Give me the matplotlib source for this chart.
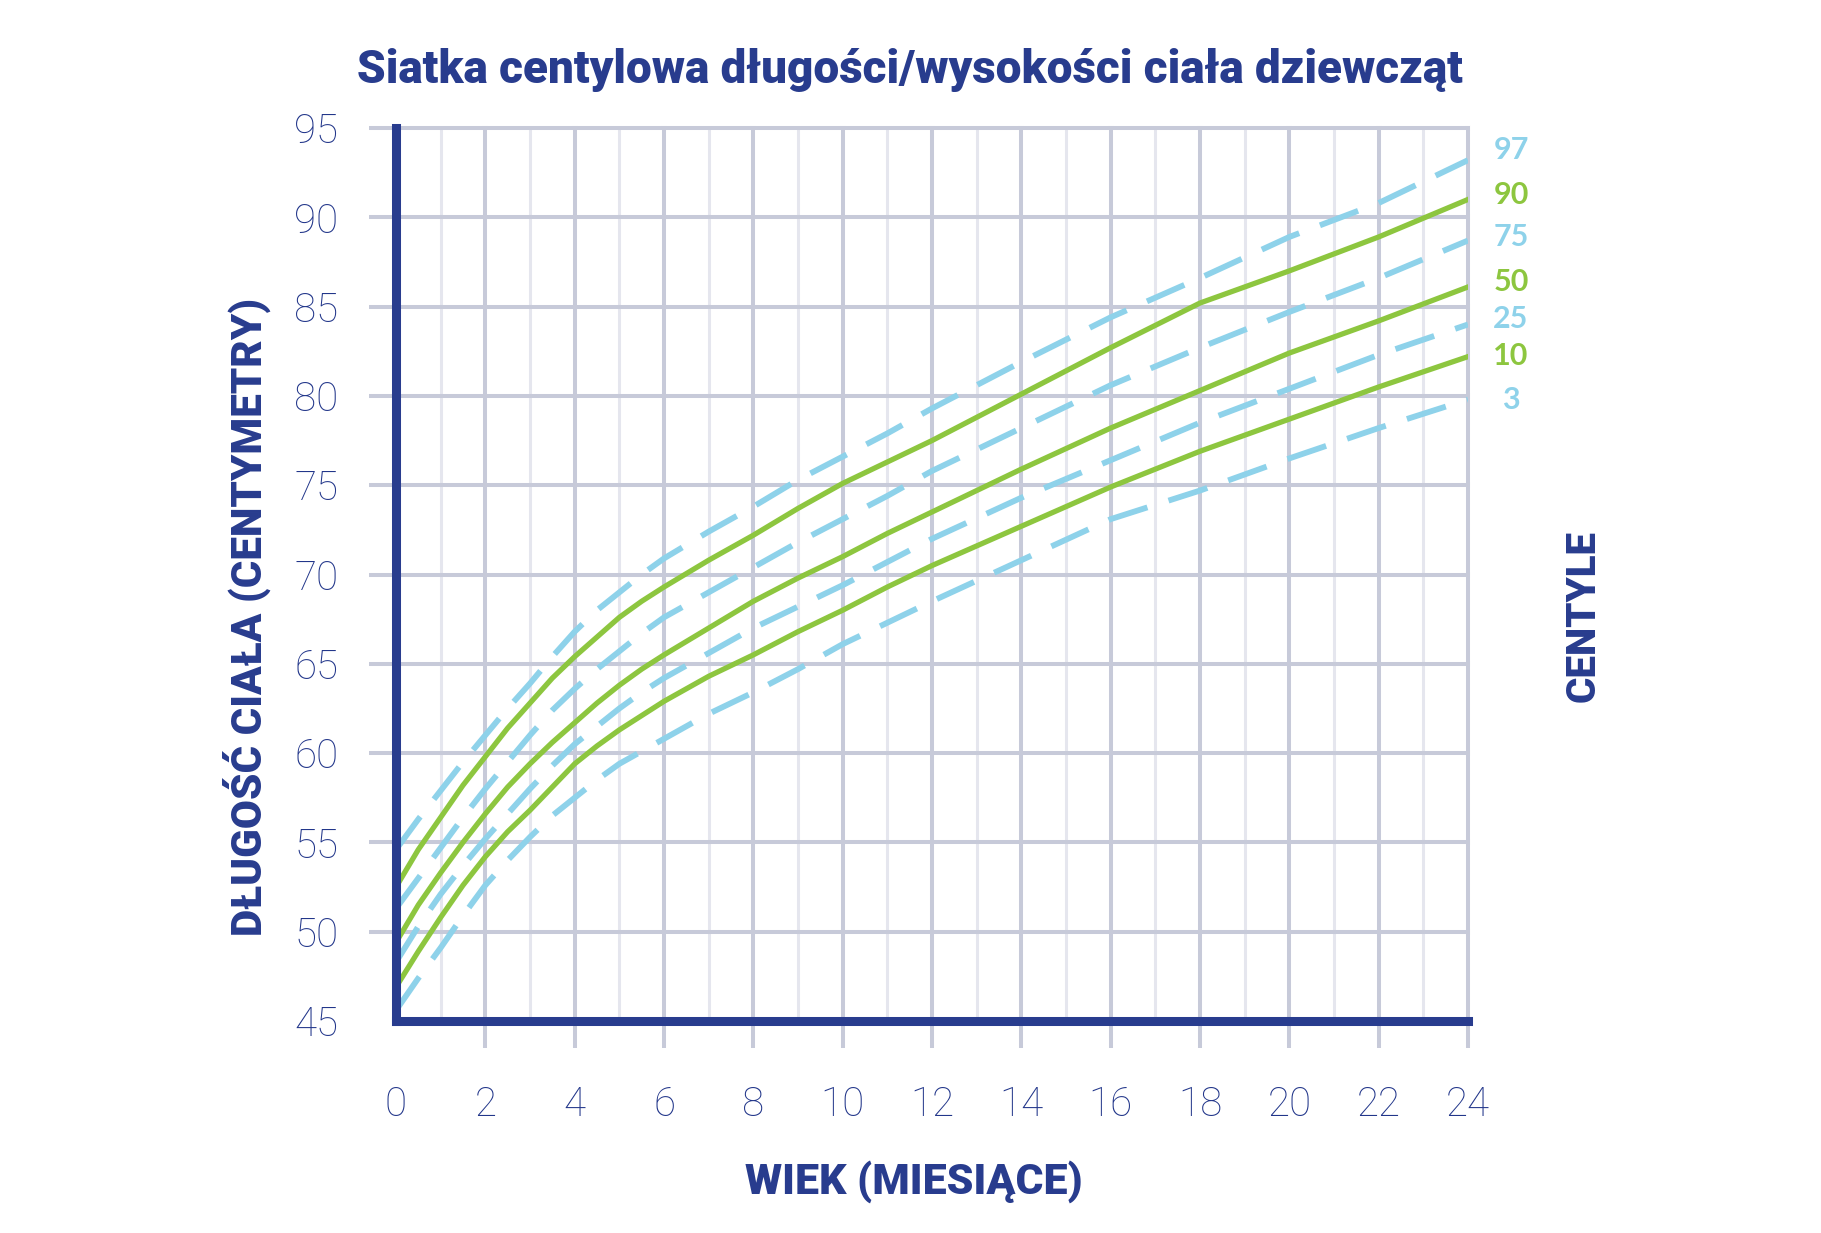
import matplotlib
matplotlib.use("Agg")
import matplotlib.pyplot as plt

months = [0, 0.5, 1, 1.5, 2, 2.5, 3, 3.5, 4, 4.5, 5, 5.5, 6, 7, 8, 9, 10, 11, 12, 14, 16, 18, 20, 22, 24]

# centile curves (cm)
p97 = [54.6, 56.3, 57.9, 59.5, 61.0, 62.5, 63.9, 65.4, 66.8, 68.0, 69.0, 70.0, 70.9,
       72.4, 73.8, 75.3, 76.6, 77.9, 79.3, 81.9, 84.4, 86.6, 88.9, 90.8, 93.2]
p90 = [52.5, 54.6, 56.4, 58.2, 59.8, 61.4, 62.8, 64.2, 65.4, 66.5, 67.6, 68.5, 69.3,
       70.8, 72.2, 73.7, 75.1, 76.3, 77.5, 80.1, 82.7, 85.2, 87.0, 88.9, 91.0]
p75 = [51.3, 53.0, 54.7, 56.4, 58.0, 59.5, 61.0, 62.4, 63.6, 64.7, 65.7, 66.7, 67.6,
       69.0, 70.4, 71.8, 73.1, 74.4, 75.8, 78.2, 80.6, 82.7, 84.7, 86.6, 88.7]
p50 = [49.4, 51.5, 53.3, 55.0, 56.6, 58.1, 59.4, 60.6, 61.7, 62.8, 63.8, 64.7, 65.5,
       67.0, 68.5, 69.8, 71.0, 72.3, 73.5, 75.9, 78.2, 80.3, 82.4, 84.2, 86.1]
p25 = [48.3, 50.3, 52.1, 53.7, 55.2, 56.6, 58.0, 59.3, 60.5, 61.5, 62.5, 63.4, 64.2,
       65.6, 67.0, 68.2, 69.4, 70.7, 72.0, 74.3, 76.4, 78.5, 80.4, 82.3, 84.0]
p10 = [46.9, 48.9, 50.8, 52.6, 54.2, 55.6, 56.8, 58.1, 59.4, 60.4, 61.3, 62.1, 62.9,
       64.3, 65.5, 66.8, 68.0, 69.3, 70.5, 72.7, 74.9, 76.9, 78.7, 80.5, 82.2]
p3 = [45.6, 47.4, 49.1, 50.9, 52.6, 54.0, 55.3, 56.5, 57.5, 58.5, 59.4, 60.1, 60.8,
      62.2, 63.4, 64.7, 66.1, 67.3, 68.5, 70.8, 73.1, 74.7, 76.5, 78.2, 79.8]

centile_names = ["97", "90", "75", "50", "25", "10", "3"]
label_y_px = [150, 195, 237, 282, 319, 356, 400]

x_ticks = list(range(0, 25, 2))
y_ticks = list(range(45, 96, 5))

NAVY = "#283c8e"
TICK_TXT = "#22368a"
BLUE = "#8ed2ea"
GREEN = "#8dc63f"
GRID = "#c7cad9"
GRID_MINOR = "#e5e6ee"

W, H = 1821, 1233
fig = plt.figure(figsize=(W / 100, H / 100), dpi=100)
fig.patch.set_facecolor("white")
ax = fig.add_axes([396 / W, 1 - 1021 / H, (1468 - 396) / W, (1021 - 128) / H])

ax.set_xlim(0, 24)
ax.set_ylim(45, 95)

# grid
for m in range(1, 24, 2):
    ax.axvline(m, color=GRID_MINOR, lw=2.2, zorder=1)
for m in x_ticks[1:]:
    ax.axvline(m, color=GRID, lw=2.9, zorder=1, clip_on=False)
for v in y_ticks[1:]:
    ax.axhline(v, color=GRID, lw=2.9, zorder=1, clip_on=False)

# curves
series = [p97, p90, p75, p50, p25, p10, p3]
for name, vals in zip(centile_names, series):
    if name in ("90", "50", "10"):
        ax.plot(months, vals, color=GREEN, lw=3.8, zorder=3, solid_joinstyle="round")
    else:
        ax.plot(months, vals, color=BLUE, lw=4.2, zorder=2, dashes=(7, 3.8),
                dash_capstyle="butt")

for s in ["top", "right"]:
    ax.spines[s].set_visible(False)
for s in ["left", "bottom"]:
    ax.spines[s].set_color(NAVY)
    ax.spines[s].set_linewidth(6.5)
    ax.spines[s].set_zorder(5)

ax.set_xticks(x_ticks)
ax.set_yticks(y_ticks)
ax.tick_params(axis="both", direction="out", length=19.5, width=2.9, color=GRID,
               labelsize=29, labelcolor=TICK_TXT, pad=22)
ax.tick_params(axis="x", pad=27)
ax.xaxis.get_major_ticks()[0].tick1line.set_visible(False)
ax.yaxis.get_major_ticks()[0].tick1line.set_visible(False)
for lab in ax.get_xticklabels() + ax.get_yticklabels():
    lab.set_family(["Roboto", "DejaVu Sans"])
    lab.set_fontweight("light")

bold = ["Roboto", "DejaVu Sans"]
fig.text(910 / W, 1 - 70 / H, "Siatka centylowa długości/wysokości ciała dziewcząt",
         ha="center", va="center", fontsize=33, fontweight="black", color=NAVY, family=bold)
fig.text(914 / W, 1 - 1182 / H, "WIEK (MIESIĄCE)", ha="center", va="center",
         fontsize=30.8, fontweight="black", color=NAVY, family=bold)
fig.text(247 / W, 1 - 617 / H, "DŁUGOŚĆ CIAŁA (CENTYMETRY)", ha="center", va="center",
         rotation=90, fontsize=30.3, fontweight="black", color=NAVY, family=bold)
fig.text(1583 / W, 1 - 616 / H, "CENTYLE", ha="center", va="center",
         rotation=90, fontsize=29, fontweight="black", color=NAVY, family=bold)

for name, ypx in zip(centile_names, label_y_px):
    col = GREEN if name in ("90", "50", "10") else BLUE
    fig.text(1511 / W, 1 - ypx / H, name, ha="center", va="center",
             fontsize=22, fontweight="bold", color=col, family=["Lato", "DejaVu Sans"])

fig.savefig("out.png", dpi=100, facecolor="white")
